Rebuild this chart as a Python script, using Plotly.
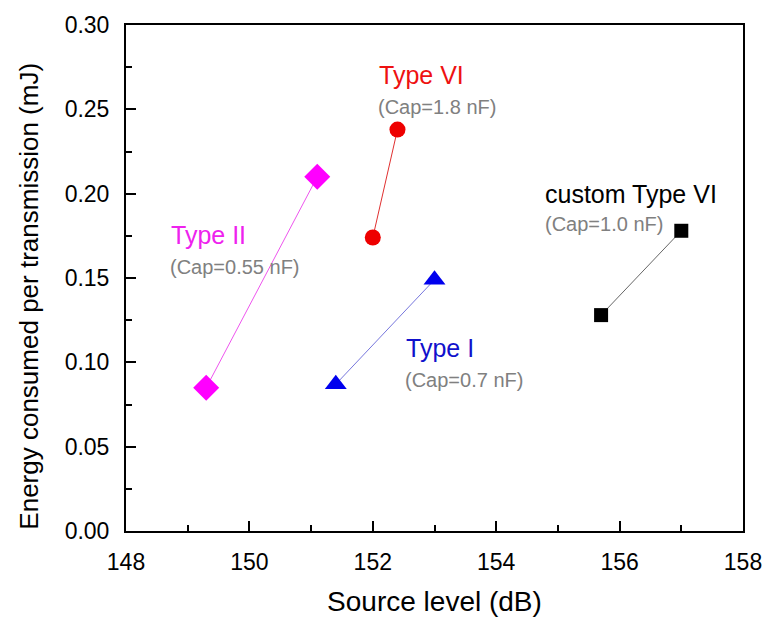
import plotly.graph_objects as go

# Data
series_names = ["Type VI", "Type II", "Type I", "custom Type VI"]
type6_x = [152.0, 152.4]
type6_y = [0.174, 0.238]
type2_x = [149.3, 151.1]
type2_y = [0.085, 0.210]
type1_x = [151.4, 153.0]
type1_y = [0.087, 0.149]
custom6_x = [155.7, 157.0]
custom6_y = [0.128, 0.178]

caps = ["(Cap=1.8 nF)", "(Cap=0.55 nF)", "(Cap=0.7 nF)", "(Cap=1.0 nF)"]
x_title = "Source level (dB)"
y_title = "Energy consumed per transmission (mJ)"

W, H = 774, 624
L, R, T, B = 126, 22, 25, 86
FONT = "Liberation Sans, Arial, sans-serif"

fig = go.Figure()

def add(xs, ys, color, linecolor, symbol, size, name):
    fig.add_trace(go.Scatter(
        x=xs, y=ys, mode="lines+markers", name=name,
        line=dict(color=linecolor, width=1),
        marker=dict(color=color, symbol=symbol, size=size, line=dict(width=0)),
        showlegend=False))

add(type6_x, type6_y, "#ee0000", "#e03030", "circle", 16, series_names[0])
add(type2_x, type2_y, "#ff00ff", "#ee55ee", "diamond", 20, series_names[1])
add(type1_x, type1_y, "#0000ee", "#7777dd", "triangle-up", 19, series_names[2])
add(custom6_x, custom6_y, "#000000", "#666666", "square", 14, series_names[3])

def px2paper(px, py):
    return (px - L) / (W - L - R), 1 - (py - T) / (H - T - B)

labels = [
    (381, 76, series_names[0], "#ee1111", 25),
    (380, 108, caps[0], "#808080", 20),
    (170, 238, series_names[1], "#ee22ee", 25),
    (169, 270, caps[1], "#808080", 20),
    (408, 352, series_names[2], "#1111cc", 25),
    (407, 385, caps[2], "#808080", 20),
    (549, 196, series_names[3], "#000000", 25),
    (549, 227, caps[3], "#808080", 20),
]
for px, py, txt, col, fs in labels:
    xp, yp = px2paper(px, py)
    fig.add_annotation(x=xp, y=yp, xref="paper", yref="paper", text=txt,
                       showarrow=False, xanchor="left", yanchor="middle",
                       font=dict(family=FONT, size=fs, color=col))

# y-axis title (placed as rotated text, slightly below axis centre as in the reference)
xp, yp = px2paper(28, 300)
fig.add_annotation(x=xp, y=yp, xref="paper", yref="paper", text=y_title,
                   showarrow=False, textangle=-90, xanchor="center", yanchor="middle",
                   font=dict(family=FONT, size=26, color="black"))

axis_common = dict(showline=True, linecolor="black", linewidth=2, mirror=True,
                   ticks="inside", ticklen=10, tickwidth=2, tickcolor="black",
                   showgrid=False, zeroline=False,
                   tickfont=dict(family=FONT, size=23, color="black"))

fig.update_xaxes(range=[148, 158], dtick=2, tick0=148, ticklabelstandoff=9,
                 minor=dict(ticks="inside", ticklen=6, dtick=1, tickcolor="black", tickwidth=2),
                 title=dict(text=x_title, font=dict(family=FONT, size=28, color="black"), standoff=18),
                 **axis_common)
fig.update_yaxes(range=[0, 0.30], dtick=0.05, tick0=0, tickformat=".2f", ticklabelstandoff=10,
                 minor=dict(ticks="inside", ticklen=6, dtick=0.025, tickcolor="black", tickwidth=2),
                 **axis_common)

fig.update_layout(width=W, height=H, margin=dict(l=L, r=R, t=T, b=B),
                  plot_bgcolor="white", paper_bgcolor="white")

fig.write_html("out.html")
